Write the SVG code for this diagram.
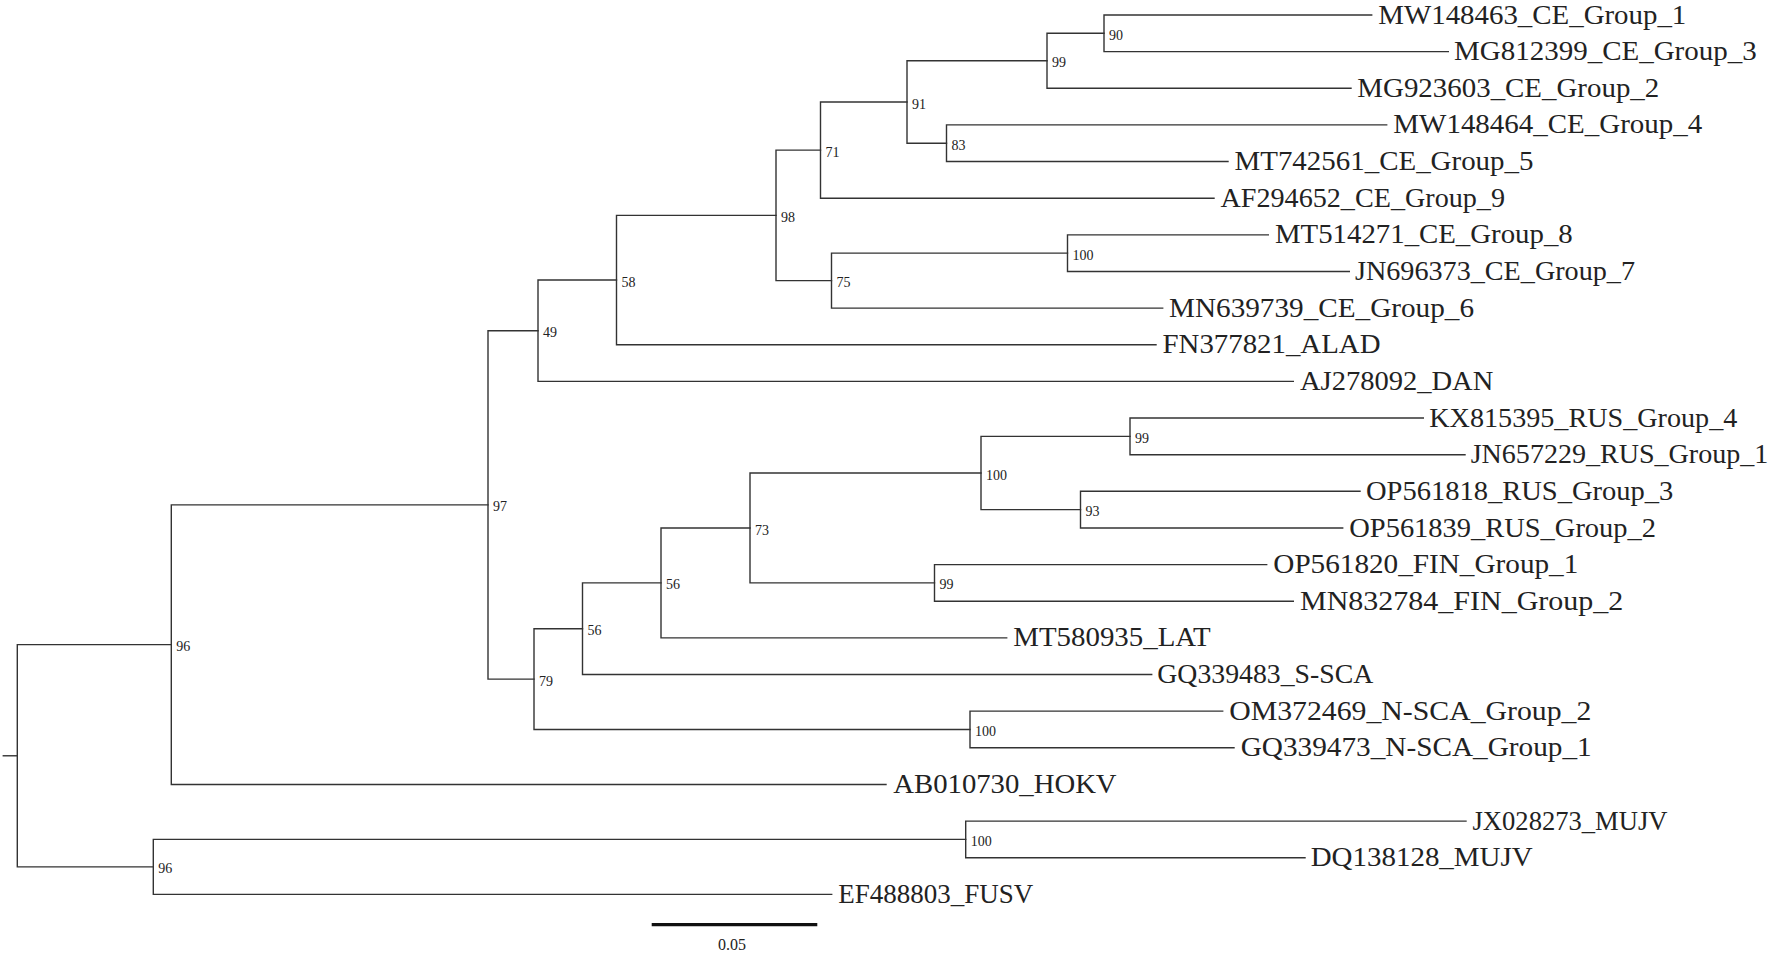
<svg xmlns="http://www.w3.org/2000/svg" width="1772" height="954" viewBox="0 0 1772 954">
<style>
.br{fill:none;stroke:#333;stroke-width:1.4;stroke-linecap:square}
.lf{font-family:"Liberation Serif","Times New Roman",serif;font-size:28px;fill:#222}
.bs{font-family:"Liberation Serif","Times New Roman",serif;font-size:14px;fill:#222}
.sc{font-family:"Liberation Serif","Times New Roman",serif;font-size:16px;fill:#222}
</style>
<rect width="1772" height="954" fill="#fff"/>
<g id="connectors">
<path class="br" d="M1371.7,15 H1104 V51.64 H1448.3"/>
<path class="br" d="M1104,33.32 H1047 V88.28 H1351"/>
<path class="br" d="M1386.7,124.92 H946.5 V161.56 H1228"/>
<path class="br" d="M1047,60.8 H907 V143.24 H946.5"/>
<path class="br" d="M907,102.02 H820.5 V198.2 H1214"/>
<path class="br" d="M1268.3,234.84 H1067.5 V271.48 H1349.3"/>
<path class="br" d="M1067.5,253.16 H831.5 V308.12 H1162.7"/>
<path class="br" d="M820.5,150.11 H776 V280.64 H831.5"/>
<path class="br" d="M776,215.38 H616.5 V344.76 H1156"/>
<path class="br" d="M616.5,280.07 H538 V381.4 H1293.3"/>
<path class="br" d="M1423.3,418.04 H1130 V454.68 H1465"/>
<path class="br" d="M1360,491.32 H1080.5 V527.96 H1342.7"/>
<path class="br" d="M1130,436.36 H981 V509.64 H1080.5"/>
<path class="br" d="M1266.7,564.6 H934.5 V601.24 H1293.3"/>
<path class="br" d="M981,473 H750 V582.92 H934.5"/>
<path class="br" d="M750,527.96 H661 V637.88 H1006.7"/>
<path class="br" d="M661,582.92 H582.5 V674.52 H1151.7"/>
<path class="br" d="M1222.7,711.16 H970 V747.8 H1234"/>
<path class="br" d="M582.5,628.72 H534 V729.48 H970"/>
<path class="br" d="M538,330.74 H488 V679.1 H534"/>
<path class="br" d="M488,504.92 H171.3 V784.44 H886"/>
<path class="br" d="M1466,821.08 H965.7 V857.72 H1305"/>
<path class="br" d="M965.7,839.4 H153.3 V894.36 H831.7"/>
<path class="br" d="M171.3,644.67 H17.3 V866.88 H153.3"/>
<path class="br" d="M3.3,755.78 H17.3"/>
</g>
<g id="leaf-MW148463"><text class="lf" x="1378.3" y="23.5" textLength="308" lengthAdjust="spacingAndGlyphs">MW148463_CE_Group_1</text></g>
<g id="leaf-MG812399"><text class="lf" x="1454" y="60.1" textLength="302.7" lengthAdjust="spacingAndGlyphs">MG812399_CE_Group_3</text></g>
<g id="leaf-MG923603"><text class="lf" x="1357.3" y="96.8" textLength="302" lengthAdjust="spacingAndGlyphs">MG923603_CE_Group_2</text></g>
<g id="leaf-MW148464"><text class="lf" x="1393.3" y="133.4" textLength="309" lengthAdjust="spacingAndGlyphs">MW148464_CE_Group_4</text></g>
<g id="leaf-MT742561"><text class="lf" x="1234.5" y="170.1" textLength="299" lengthAdjust="spacingAndGlyphs">MT742561_CE_Group_5</text></g>
<g id="leaf-AF294652"><text class="lf" x="1220.5" y="206.7" textLength="284.5" lengthAdjust="spacingAndGlyphs">AF294652_CE_Group_9</text></g>
<g id="leaf-MT514271"><text class="lf" x="1275" y="243.3" textLength="297.7" lengthAdjust="spacingAndGlyphs">MT514271_CE_Group_8</text></g>
<g id="leaf-JN696373"><text class="lf" x="1355" y="280" textLength="280" lengthAdjust="spacingAndGlyphs">JN696373_CE_Group_7</text></g>
<g id="leaf-MN639739"><text class="lf" x="1169" y="316.6" textLength="305" lengthAdjust="spacingAndGlyphs">MN639739_CE_Group_6</text></g>
<g id="leaf-FN377821"><text class="lf" x="1162.5" y="353.3" textLength="218" lengthAdjust="spacingAndGlyphs">FN377821_ALAD</text></g>
<g id="leaf-AJ278092"><text class="lf" x="1300" y="389.9" textLength="193.3" lengthAdjust="spacingAndGlyphs">AJ278092_DAN</text></g>
<g id="leaf-KX815395"><text class="lf" x="1429.3" y="426.5" textLength="308" lengthAdjust="spacingAndGlyphs">KX815395_RUS_Group_4</text></g>
<g id="leaf-JN657229"><text class="lf" x="1470.7" y="463.2" textLength="297.6" lengthAdjust="spacingAndGlyphs">JN657229_RUS_Group_1</text></g>
<g id="leaf-OP561818"><text class="lf" x="1366" y="499.8" textLength="307.3" lengthAdjust="spacingAndGlyphs">OP561818_RUS_Group_3</text></g>
<g id="leaf-OP561839"><text class="lf" x="1349.3" y="536.5" textLength="306.7" lengthAdjust="spacingAndGlyphs">OP561839_RUS_Group_2</text></g>
<g id="leaf-OP561820"><text class="lf" x="1273.3" y="573.1" textLength="305" lengthAdjust="spacingAndGlyphs">OP561820_FIN_Group_1</text></g>
<g id="leaf-MN832784"><text class="lf" x="1300" y="609.7" textLength="323.3" lengthAdjust="spacingAndGlyphs">MN832784_FIN_Group_2</text></g>
<g id="leaf-MT580935"><text class="lf" x="1013.3" y="646.4" textLength="197.3" lengthAdjust="spacingAndGlyphs">MT580935_LAT</text></g>
<g id="leaf-GQ339483"><text class="lf" x="1157.3" y="683" textLength="216" lengthAdjust="spacingAndGlyphs">GQ339483_S-SCA</text></g>
<g id="leaf-OM372469"><text class="lf" x="1229.3" y="719.7" textLength="362" lengthAdjust="spacingAndGlyphs">OM372469_N-SCA_Group_2</text></g>
<g id="leaf-GQ339473"><text class="lf" x="1240.7" y="756.3" textLength="351" lengthAdjust="spacingAndGlyphs">GQ339473_N-SCA_Group_1</text></g>
<g id="leaf-AB010730"><text class="lf" x="893.3" y="792.9" textLength="223.3" lengthAdjust="spacingAndGlyphs">AB010730_HOKV</text></g>
<g id="leaf-JX028273"><text class="lf" x="1472.5" y="829.6" textLength="195" lengthAdjust="spacingAndGlyphs">JX028273_MUJV</text></g>
<g id="leaf-DQ138128"><text class="lf" x="1310.7" y="866.2" textLength="222" lengthAdjust="spacingAndGlyphs">DQ138128_MUJV</text></g>
<g id="leaf-EF488803"><text class="lf" x="838.3" y="902.9" textLength="195" lengthAdjust="spacingAndGlyphs">EF488803_FUSV</text></g>
<g id="node-n90"><text class="bs" x="1109" y="39.8">90</text></g>
<g id="node-n99a"><text class="bs" x="1052" y="67.3">99</text></g>
<g id="node-n83"><text class="bs" x="951.5" y="149.7">83</text></g>
<g id="node-n91"><text class="bs" x="912" y="108.5">91</text></g>
<g id="node-n71"><text class="bs" x="825.5" y="156.6">71</text></g>
<g id="node-n100a"><text class="bs" x="1072.5" y="259.7">100</text></g>
<g id="node-n75"><text class="bs" x="836.5" y="287.1">75</text></g>
<g id="node-n98"><text class="bs" x="781" y="221.9">98</text></g>
<g id="node-n58"><text class="bs" x="621.5" y="286.6">58</text></g>
<g id="node-n49"><text class="bs" x="543" y="337.2">49</text></g>
<g id="node-n99b"><text class="bs" x="1135" y="442.9">99</text></g>
<g id="node-n93"><text class="bs" x="1085.5" y="516.1">93</text></g>
<g id="node-n100b"><text class="bs" x="986" y="479.5">100</text></g>
<g id="node-n99c"><text class="bs" x="939.5" y="589.4">99</text></g>
<g id="node-n73"><text class="bs" x="755" y="534.5">73</text></g>
<g id="node-n56a"><text class="bs" x="666" y="589.4">56</text></g>
<g id="node-n56b"><text class="bs" x="587.5" y="635.2">56</text></g>
<g id="node-n100c"><text class="bs" x="975" y="736">100</text></g>
<g id="node-n79"><text class="bs" x="539" y="685.6">79</text></g>
<g id="node-n97"><text class="bs" x="493" y="511.4">97</text></g>
<g id="node-n96a"><text class="bs" x="176.3" y="651.2">96</text></g>
<g id="node-n100d"><text class="bs" x="970.7" y="845.9">100</text></g>
<g id="node-n96b"><text class="bs" x="158.3" y="873.4">96</text></g>
<g id="scale-bar">
<line x1="651.7" y1="924.7" x2="817.3" y2="924.7" stroke="#111" stroke-width="3.3"/>
<text class="sc" x="732" y="950" text-anchor="middle">0.05</text>
</g>
</svg>
